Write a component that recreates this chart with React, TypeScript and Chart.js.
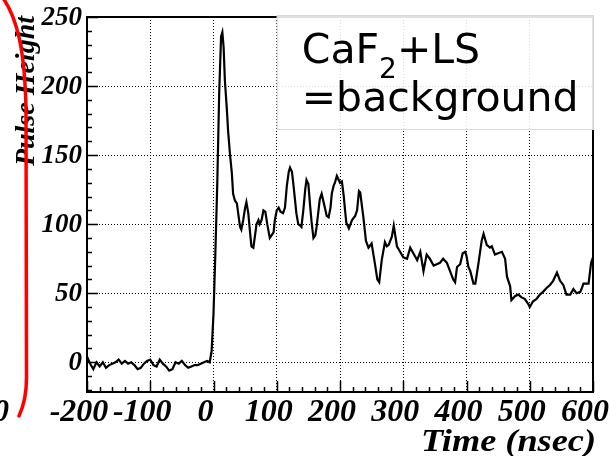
import React, { useEffect, useRef } from "react";
import { Chart, registerables } from "chart.js";

Chart.register(...registerables);

// ---- data ----
const timeNs = [
  -200, -195, -190, -185, -180, -175, -170, -165, -160, -155, -150, -145, -140, -135, -130, -125,
  -120, -115, -110, -105, -100, -95, -90, -85, -80, -75, -70, -65, -60, -55, -50, -45, -40, -35,
  -30, -25, -20, -15, -10, -6, -3, 0, 3, 6, 9, 12, 14, 16, 18, 21, 23, 26, 29, 31, 34, 37, 39, 42,
  44, 47, 50, 52, 55, 58, 60, 63, 66, 68, 71, 73, 76, 79, 82, 85, 89, 92, 95, 97, 100, 103, 106,
  110, 113, 116, 119, 121, 124, 126, 129, 131, 134, 137, 139, 142, 145, 147, 150, 153, 155, 158,
  161, 163, 166, 168, 171, 174, 176, 179, 182, 185, 187, 190, 192, 195, 198, 200, 203, 206, 208,
  210, 214, 219, 224, 227, 230, 232, 235, 237, 241, 245, 250, 255, 259, 262, 266, 271, 274, 277,
  282, 285, 288, 290, 295, 300, 306, 311, 317, 322, 327, 332, 337, 342, 348, 353, 358, 363, 369,
  374, 379, 382, 385, 390, 394, 398, 400, 403, 406, 411, 414, 419, 424, 427, 432, 437, 440, 445,
  450, 456, 461, 464, 469, 471, 477, 482, 487, 492, 498, 500, 505, 511, 516, 521, 527, 532, 537,
  543, 548, 553, 558, 564, 569, 574, 580, 585, 590, 593, 597, 600,
];
const pulseHeight = [
  4, -1, -5, 0, -3, 0, -4, -2, -1, 0, 2, -1, 1, -1, 0, -2,
  -5, -4, -1, 1, 2, -2, -3, 2, -1, -3, -6, -5, 0, -1, 1, -2, -4, -3,
  -2, -2, -1, 0, 1, 0, 8, 35, 80, 130, 195, 236, 239, 228, 204, 184, 168, 151, 137, 122, 117, 115, 108, 98,
  96, 103, 112, 116, 108, 93, 84, 83, 93, 100, 103, 100, 103, 110, 109, 100, 90, 92, 94, 103, 110, 112, 109,
  108, 112, 128, 138, 141, 138, 130, 117, 108, 100, 99, 98, 110, 125, 132, 129, 112, 102, 90,
  92, 98, 110, 118, 122, 116, 112, 106, 105, 112, 122, 128, 130, 135, 132, 130, 131, 120, 110,
  101, 97, 103, 106, 110, 124, 123, 112, 105, 88, 83, 86, 72, 60, 58, 74, 87, 84, 85,
  91, 99, 90, 84, 80, 76, 75, 83, 78, 74, 80, 66, 78, 75, 70, 71, 72, 75, 72,
  66, 60, 58, 69, 71, 79, 80, 77, 69, 66, 57, 57, 72, 88, 93, 85, 83, 84, 78,
  79, 80, 75, 62, 55, 45, 48, 49, 47, 46, 42, 40, 44, 46, 49, 51, 54, 56, 59,
  65, 59, 56, 49, 49, 53, 50, 51, 57, 57, 57, 72, 76,
];
const xTickValues = [-200, -100, 0, 100, 200, 300, 400, 500, 600];
const yTickValues = [0, 50, 100, 150, 200, 250];
const xRange = [-200, 600];
const yRange = [-21.5, 250];
const xMinorStep = 20;
const yMinorStep = 10;
const boxLine1 = ["CaF", "2", "+LS"];
const boxLine2 = "=background";
const xTitle = "Time (nsec)";
const yTitle = "Pulse Height";
const strayLabel = "0";

const SERIF = "'Liberation Serif', 'Times New Roman', serif";

const decorPlugin = {
  id: "rootDecor",
  afterDatasetsDraw(chart: any) {
    const { ctx, chartArea: a } = chart;
    const x = chart.scales.x;
    const y = chart.scales.y;
    ctx.save();

    // inner ROOT-style ticks
    ctx.strokeStyle = "#000";
    ctx.lineWidth = 1.5;
    ctx.beginPath();
    for (let v = Math.ceil(yRange[0] / yMinorStep) * yMinorStep; v <= yRange[1]; v += yMinorStep) {
      const py = Math.round(y.getPixelForValue(v)) + 0.5;
      const len = v % 50 === 0 ? 11 : 5;
      ctx.moveTo(a.left, py);
      ctx.lineTo(a.left + len, py);
    }
    for (let v = xRange[0]; v <= xRange[1]; v += xMinorStep) {
      const px = Math.round(x.getPixelForValue(v)) + 0.5;
      const len = v % 100 === 0 ? 11 : 5;
      ctx.moveTo(px, a.bottom);
      ctx.lineTo(px, a.bottom - len);
    }
    ctx.stroke();

    // frame
    ctx.lineWidth = 2;
    ctx.strokeRect(a.left, a.top, a.right - a.left, a.bottom - a.top);

    // tick labels (from the tick arrays, positioned by the scales)
    ctx.fillStyle = "#000";
    ctx.font = `italic bold 27px ${SERIF}`;
    ctx.textAlign = "right";
    ctx.textBaseline = "middle";
    yTickValues.forEach((v) => {
      ctx.fillText(String(v), a.left - 5, y.getPixelForValue(v) + 1);
    });
    ctx.font = `italic bold 32px ${SERIF}`;
    ctx.textAlign = "center";
    ctx.textBaseline = "alphabetic";
    xTickValues.forEach((v) => {
      ctx.fillText(String(v), x.getPixelForValue(v) - 8, a.bottom + 29);
    });

    // legend-like text box
    const bx = x.getPixelForValue(100);
    const by = a.top - 2;
    const bw = a.right + 1 - bx;
    const bh = 130 - by;
    ctx.fillStyle = "rgba(255,255,255,0.88)";
    ctx.fillRect(bx, by, bw, bh);
    ctx.strokeStyle = "#d8d8d8";
    ctx.lineWidth = 1;
    ctx.strokeRect(bx + 0.5, by + 0.5, bw - 1, bh - 1);

    ctx.fillStyle = "#000";
    ctx.textAlign = "left";
    ctx.textBaseline = "alphabetic";
    let tx = bx + 25;
    ctx.font = "41px 'DejaVu Sans'";
    ctx.fillText(boxLine1[0], tx, 63);
    tx += ctx.measureText(boxLine1[0]).width;
    ctx.font = "28px 'DejaVu Sans'";
    ctx.fillText(boxLine1[1], tx, 78);
    tx += ctx.measureText(boxLine1[1]).width;
    ctx.font = "41px 'DejaVu Sans'";
    ctx.fillText(boxLine1[2], tx, 63);
    ctx.fillText(boxLine2, bx + 25, 111);

    // axis titles
    ctx.font = `italic bold 31px ${SERIF}`;
    const tw = ctx.measureText(xTitle).width;
    ctx.save();
    ctx.translate(a.right + 3, 451);
    ctx.scale(175 / tw, 1);
    ctx.textAlign = "right";
    ctx.fillText(xTitle, 0, 0);
    ctx.restore();

    ctx.save();
    ctx.font = `italic bold 28px ${SERIF}`;
    ctx.translate(34, 16);
    ctx.rotate(-Math.PI / 2);
    ctx.textAlign = "right";
    ctx.fillText(yTitle, 0, 0);
    ctx.restore();

    // stray clipped label at far left
    ctx.font = `italic bold 32px ${SERIF}`;
    ctx.textAlign = "right";
    ctx.fillText(strayLabel, 9, a.bottom + 29);

    // red hand-drawn bracket
    ctx.strokeStyle = "#ff0000";
    ctx.lineWidth = 3.5;
    ctx.lineCap = "round";
    ctx.beginPath();
    ctx.moveTo(3, -2);
    ctx.bezierCurveTo(17, 18, 25, 50, 26, 110);
    ctx.lineTo(26.5, 378);
    ctx.quadraticCurveTo(26.5, 400, 19, 416);
    ctx.stroke();

    ctx.restore();
  },
};

export default function App() {
  const ref = useRef<HTMLCanvasElement | null>(null);
  useEffect(() => {
    if (!ref.current) return;
    const points = timeNs.map((t, i) => ({ x: t, y: pulseHeight[i] }));
    const chart = new Chart(ref.current, {
      type: "line",
      data: {
        datasets: [
          {
            data: points,
            borderColor: "#000",
            borderWidth: 2.2,
            pointRadius: 0,
            tension: 0,
            fill: false,
          },
        ],
      },
      options: {
        animation: false,
        responsive: false,
        devicePixelRatio: 1,
        layout: { padding: { top: 17, right: 17, left: 0, bottom: 0 } },
        plugins: { legend: { display: false }, tooltip: { enabled: false } },
        scales: {
          x: {
            type: "linear",
            min: xRange[0],
            max: xRange[1],
            afterFit: (s: any) => {
              s.height = 64;
            },
            afterBuildTicks: (s: any) => {
              s.ticks = xTickValues.map((v) => ({ value: v }));
            },
            ticks: { display: false },
            grid: { color: "#000", lineWidth: 1, drawTicks: false },
            border: { display: false, dash: [1, 2] },
          },
          y: {
            type: "linear",
            min: yRange[0],
            max: yRange[1],
            afterFit: (s: any) => {
              s.width = 87;
            },
            afterBuildTicks: (s: any) => {
              s.ticks = yTickValues.map((v) => ({ value: v }));
            },
            ticks: { display: false },
            grid: { color: "#000", lineWidth: 1, drawTicks: false },
            border: { display: false, dash: [1, 2] },
          },
        },
      },
      plugins: [decorPlugin],
    });
    return () => chart.destroy();
  }, []);
  return (
    <div style={{ position: "absolute", left: 0, top: 0, width: 610, height: 456, background: "#fff" }}>
      <canvas ref={ref} width={610} height={456} />
    </div>
  );
}
